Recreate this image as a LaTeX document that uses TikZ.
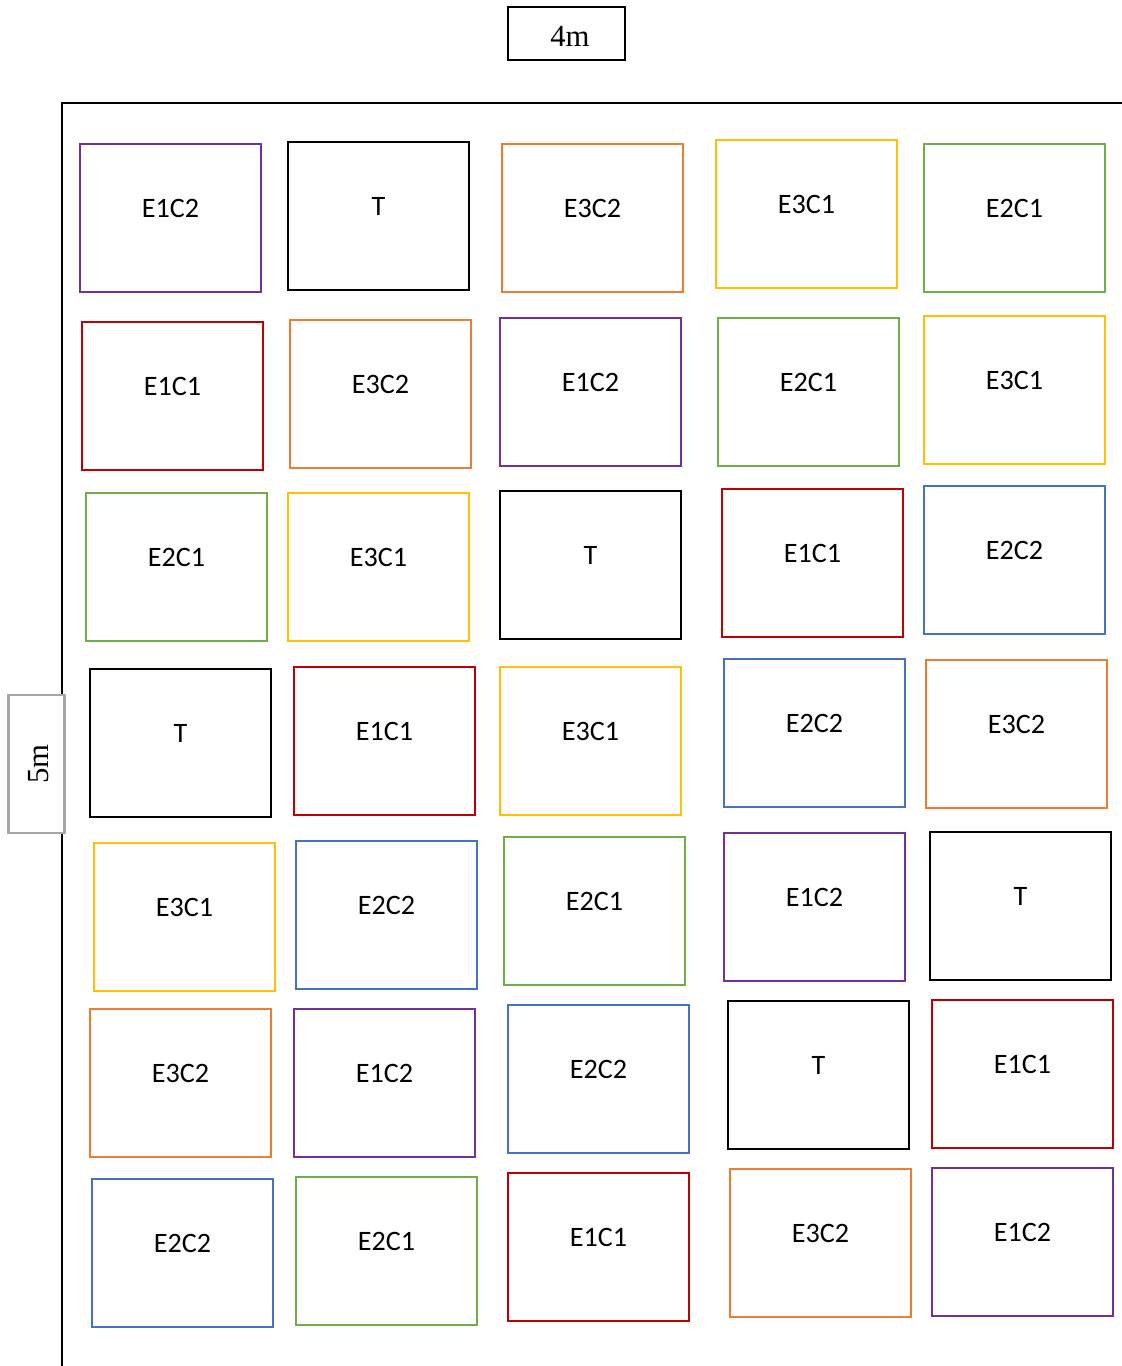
\documentclass[tikz,border=0pt]{standalone}
\usepackage{fontspec}
\setmainfont{Liberation Serif}
\newfontfamily\labfont{Carlito}
\definecolor{cpurple}{HTML}{7030A0}
\definecolor{corange}{HTML}{ED7D31}
\definecolor{cyellow}{HTML}{FFC000}
\definecolor{cgreen}{HTML}{70AD47}
\definecolor{cred}{HTML}{C00000}
\definecolor{cblue}{HTML}{4472C4}
\definecolor{cblack}{HTML}{000000}
\definecolor{cgrey}{HTML}{A6A6A6}
\begin{document}
\begin{tikzpicture}[x=0.02cm,y=-0.02cm,
  plotbox/.style={draw=#1,line width=1.3pt,minimum width=3.62cm,minimum height=2.96cm,inner sep=0pt},
  plotlabel/.style={font=\labfont\fontsize{16}{19}\selectfont,inner sep=0pt},
  dimbox/.style={draw,line width=1.2pt,inner sep=0pt,font=\fontsize{17}{20}\selectfont}]
\useasboundingbox (0,0) rectangle (1122,1366);
% outer frame
\coordinate (fb) at (62,1370);
\coordinate (fc) at (62,103);
\coordinate (fr) at (1126,103);
\draw[line width=1.4pt] (fb) -- (fc) -- (fr);
% dimension labels
\node[dimbox,minimum width=2.34cm,minimum height=1.06cm] (w4) at (566.5,33.5) {};
\node[font=\fontsize{17.5}{20}\selectfont,inner sep=0pt] (w4t) at ([xshift=0.07cm,yshift=-0.06cm]w4.center) {4m};
\node[draw=cgrey,line width=1.2pt,inner sep=0pt,minimum width=1.12cm,minimum height=2.76cm,fill=white] (h5) at (36.5,764) {};
\node[font=\fontsize{17.5}{20}\selectfont,inner sep=0pt,rotate=90] (h5t) at ([xshift=0.04cm]h5.center) {5m};
% plots
\foreach \cx/\cy/\col/\txt [count=\i] in {
 170.5/218/cpurple/E1C2, 378.5/216/cblack/T, 592.5/218/corange/E3C2, 806.5/214/cyellow/E3C1, 1014.5/218/cgreen/E2C1,
 172.5/396/cred/E1C1, 380.5/394/corange/E3C2, 590.5/392/cpurple/E1C2, 808.5/392/cgreen/E2C1, 1014.5/390/cyellow/E3C1,
 176.5/567/cgreen/E2C1, 378.5/567/cyellow/E3C1, 590.5/565/cblack/T, 812.5/563/cred/E1C1, 1014.5/560/cblue/E2C2,
 180.5/743/cblack/T, 384.5/741/cred/E1C1, 590.5/741/cyellow/E3C1, 814.5/733/cblue/E2C2, 1016.5/734/corange/E3C2,
 184.5/917/cyellow/E3C1, 386.5/915/cblue/E2C2, 594.5/911/cgreen/E2C1, 814.5/907/cpurple/E1C2, 1020.5/906/cblack/T,
 180.5/1083/corange/E3C2, 384.5/1083/cpurple/E1C2, 598.5/1079/cblue/E2C2, 818.5/1075/cblack/T, 1022.5/1074/cred/E1C1,
 182.5/1253/cblue/E2C2, 386.5/1251/cgreen/E2C1, 598.5/1247/cred/E1C1, 820.5/1243/corange/E3C2, 1022.5/1242/cpurple/E1C2}
{
  \node[plotbox=\col] (b\i) at (\cx,\cy) {};
  \node[plotlabel] (t\i) at ([yshift=0.2cm]b\i.center) {\txt};
}
\end{tikzpicture}
\end{document}
